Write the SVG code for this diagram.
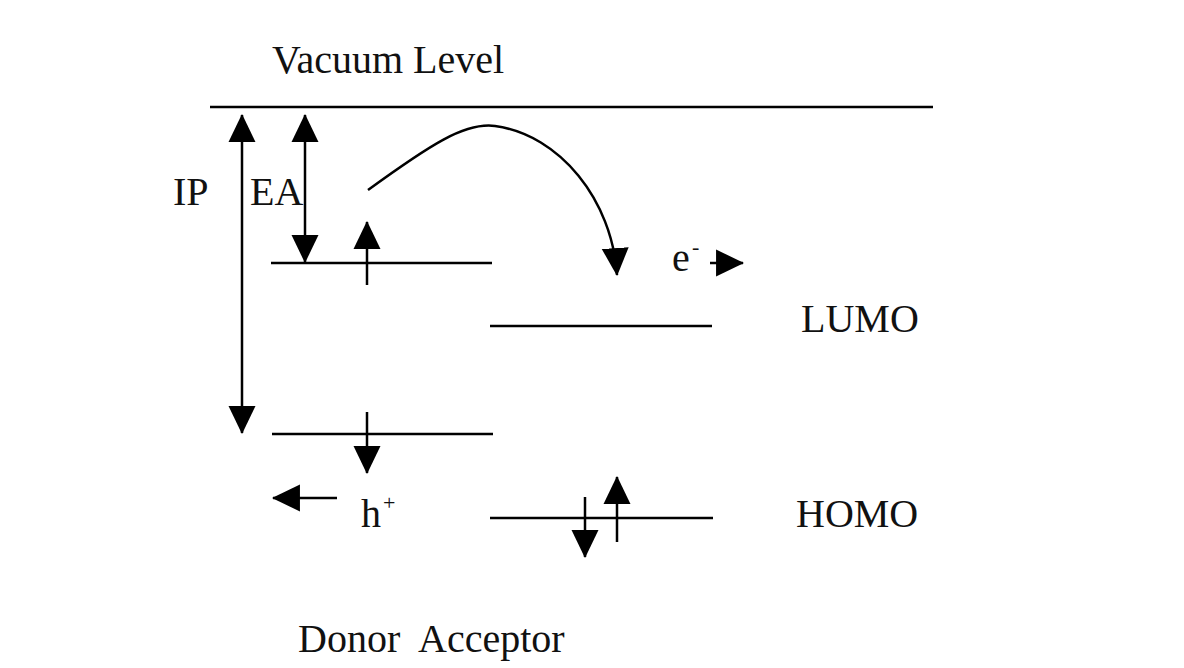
<svg xmlns="http://www.w3.org/2000/svg" width="1184" height="668" viewBox="0 0 1184 668">
<style>
.ln{stroke:#000;stroke-width:2.5;fill:none}
.ar{stroke:#000;stroke-width:2.5;fill:none;marker-end:url(#ah)}
.t{font-family:"Liberation Serif","Times New Roman",serif;font-size:40px;fill:#111}
.sup{font-family:"Liberation Serif","Times New Roman",serif;font-size:22px;fill:#111}
</style>
<defs>
<marker id="ah" markerUnits="userSpaceOnUse" markerWidth="28" markerHeight="28" viewBox="0 0 27 26" refX="26" refY="13" orient="auto-start-reverse">
<path d="M0,0 L27,13 L0,26 z" fill="#000"/>
</marker>
</defs>
<rect width="1184" height="668" fill="#fff"/>
<g id="levels">
<line class="ln" x1="210" y1="107" x2="933" y2="107"/>
<line class="ln" x1="271" y1="263" x2="492" y2="263"/>
<line class="ln" x1="490" y1="326" x2="712" y2="326"/>
<line class="ln" x1="272" y1="434" x2="493" y2="434"/>
<line class="ln" x1="490" y1="518" x2="713" y2="518"/>
</g>
<g id="labels">
<text class="t" x="272" y="73">Vacuum Level</text>
<text class="t" x="173" y="205">IP</text>
<text class="t" x="250" y="205">EA</text>
<text class="t" x="801" y="332">LUMO</text>
<text class="t" x="796" y="527">HOMO</text>
<text class="t" x="298" y="652" xml:space="preserve">Donor  Acceptor</text>
<text class="t" x="672" y="271">e</text>
<text class="sup" x="692" y="254">-</text>
<text class="t" x="361" y="527">h</text>
<text class="sup" x="383" y="510">+</text>
</g>
<g id="connectors">
<line class="ar" style="marker-start:url(#ah)" x1="242" y1="115" x2="242" y2="433"/>
<line class="ar" style="marker-start:url(#ah)" x1="305" y1="115" x2="305" y2="262"/>
<line class="ar" x1="367" y1="285" x2="367" y2="222"/>
<path class="ar" d="M368,190 C430,145 465,122 495,126 C560,135 612,200 617,275"/>
<line class="ar" x1="710" y1="263" x2="743" y2="263"/>
<line class="ar" x1="367" y1="412" x2="367" y2="473"/>
<line class="ar" x1="337" y1="498" x2="273" y2="498"/>
<line class="ar" x1="585" y1="497" x2="585" y2="557"/>
<line class="ar" x1="617" y1="542" x2="617" y2="477"/>
</g>
</svg>
